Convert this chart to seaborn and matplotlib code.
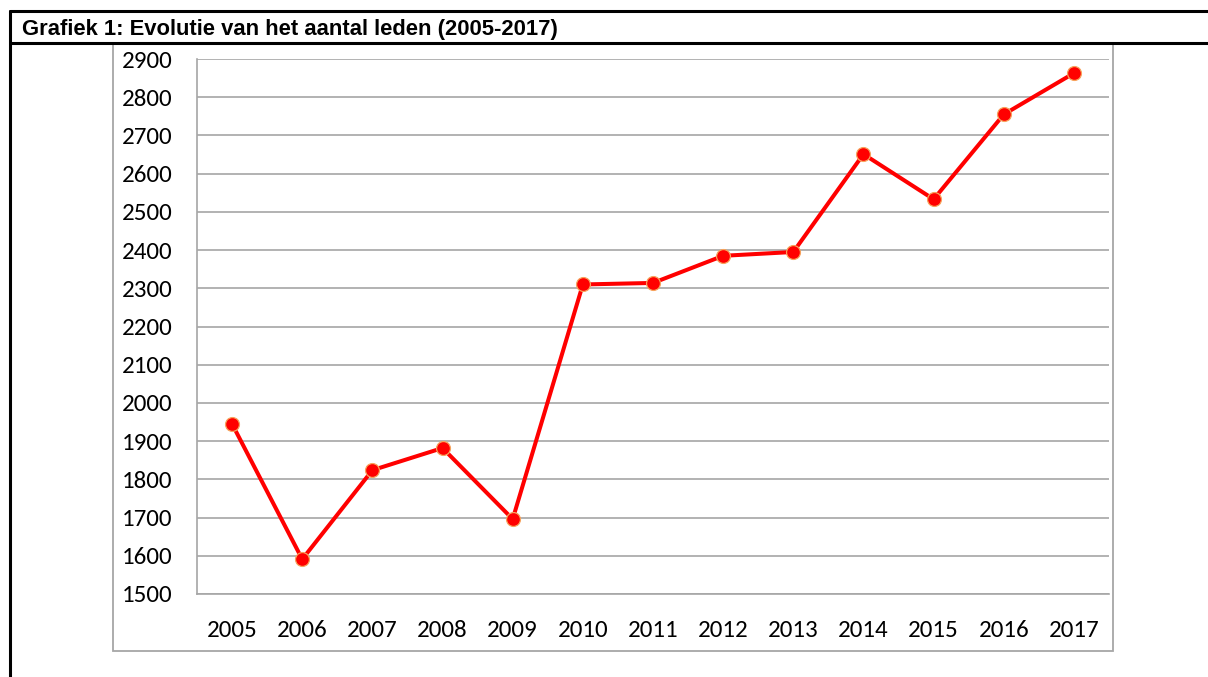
import numpy as np
import matplotlib
matplotlib.use('Agg')
import matplotlib.pyplot as plt
from matplotlib.lines import Line2D
from matplotlib.patches import Rectangle
import seaborn as sns
import pandas as pd

# Gegevens
jaren = ['2005', '2006', '2007', '2008', '2009', '2010', '2011',
         '2012', '2013', '2014', '2015', '2016', '2017']
leden = [1945, 1591, 1824, 1882, 1696, 2310, 2314,
         2385, 2395, 2651, 2533, 2755, 2863]
y_ticks = list(range(1500, 3000, 100))
titel = 'Grafiek 1: Evolutie van het aantal leden (2005-2017)'

df = pd.DataFrame({'pos': np.arange(len(jaren)), 'leden': leden})

sns.set_style('white')
plt.rcParams['font.family'] = ['Carlito', 'Lato', 'DejaVu Sans']
plt.rcParams['text.color'] = 'black'
plt.rcParams['xtick.labelcolor'] = 'black'
plt.rcParams['ytick.labelcolor'] = 'black'

W, H = 1208, 677
fig = plt.figure(figsize=(W / 100, H / 100), dpi=100)

def fx(px):
    return px / W

def fy(py):
    return 1 - py / H

# Kader rond de grafiek (tabelcel)
fig.add_artist(Rectangle((fx(113), fy(651)), fx(1113) - fx(113), fy(43) - fy(651),
                         transform=fig.transFigure, fill=False,
                         edgecolor='#A6A6A6', lw=1.3))
fig.add_artist(Line2D([fx(10), 1], [fy(11), fy(11)], transform=fig.transFigure,
                      color='black', lw=2.2))
fig.add_artist(Line2D([fx(10), 1], [fy(43), fy(43)], transform=fig.transFigure,
                      color='black', lw=2.2))
fig.add_artist(Line2D([fx(10), fx(10)], [fy(11), 0], transform=fig.transFigure,
                      color='black', lw=2.2))
fig.text(fx(22), fy(29), titel, fontsize=15.8, fontweight='bold', color='black',
         family=['Liberation Sans Narrow', 'Liberation Sans', 'DejaVu Sans'],
         ha='left', va='center')

ax = fig.add_axes([fx(197), fy(594), fx(1109) - fx(197), fy(59) - fy(594)])
sns.lineplot(data=df, x='pos', y='leden', ax=ax, color='#FF0000', lw=2.9,
             marker='o', markersize=10, markerfacecolor='#FF0000',
             markeredgecolor='#F7A35C', markeredgewidth=0.9, zorder=3)

ax.set_xlim(-0.5, len(jaren) - 0.5)
ax.set_ylim(1500, 2900)
ax.set_yticks(y_ticks)
ax.set_yticklabels([str(t) for t in y_ticks], fontsize=18)
ax.yaxis.grid(True, color='#A6A6A6', lw=1.2)
ax.set_axisbelow(True)

# Categorie-as: streepjes tussen de jaren, labels in het midden
ax.set_xticks(np.arange(-0.5, len(jaren), 1.0))
ax.set_xticklabels([])
ax.set_xticks(np.arange(len(jaren)), minor=True)
ax.set_xticklabels(jaren, minor=True, fontsize=18)
ax.tick_params(axis='x', which='major', direction='out', length=6, width=1.2,
               color='#A6A6A6')
ax.tick_params(axis='x', which='minor', length=0, pad=19)
ax.tick_params(axis='y', direction='out', length=6.5, width=1.2,
               color='#A6A6A6', pad=11)

for side in ['top', 'right']:
    ax.spines[side].set_visible(False)
for side in ['left', 'bottom']:
    ax.spines[side].set_color('#A6A6A6')
    ax.spines[side].set_linewidth(1.2)

ax.set_xlabel('')
ax.set_ylabel('')

fig.savefig('out.png', dpi=100)
